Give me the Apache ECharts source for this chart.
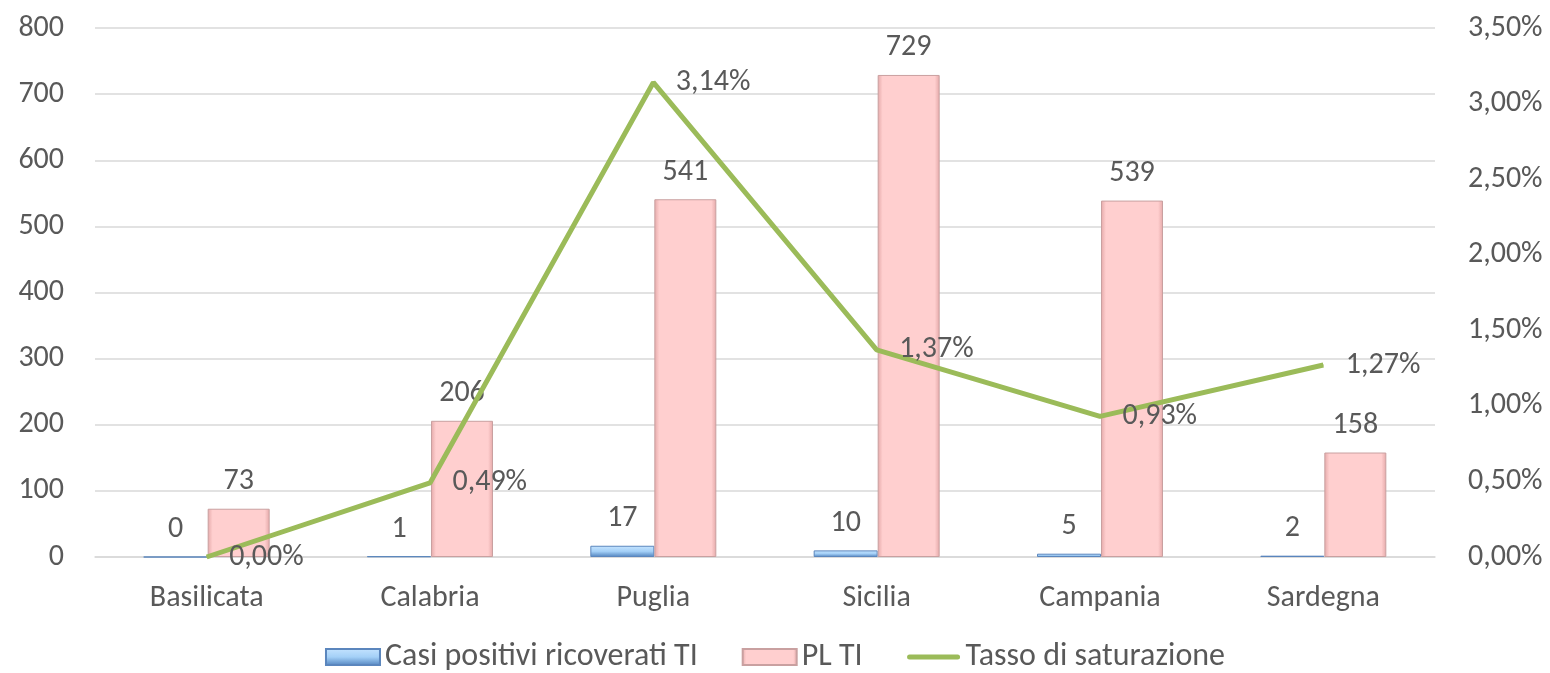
<!DOCTYPE html>
<html><head><meta charset="utf-8">
<script src="https://cdn.jsdelivr.net/npm/echarts@6/dist/echarts.min.js"></script>
<style>html,body{margin:0;padding:0;background:#fff}#c{width:1550px;height:673px}</style>
</head><body><div id="c"></div>
<script>
const categories = ['Basilicata','Calabria','Puglia','Sicilia','Campania','Sardegna'];
const casiPositivi = [0,1,17,10,5,2];
const plTI = [73,206,541,729,539,158];
const tassoSaturazione = [0.00,0.49,3.14,1.37,0.93,1.27];
const FONT = "Carlito, 'Liberation Sans Narrow', 'DejaVu Sans Condensed', 'Noto Sans', sans-serif";
const TXT = '#595959';
const FS = 30;
const chart = echarts.init(document.getElementById('c'));
const fmtPct = v => v.toFixed(2).replace('.', ',') + '%';
const lineIcon = 'path://M0,0 L0.01,0 L0,0.01 Z M3,5.5 L51,5.5 A2.5,2.5 0 0 1 51,10.5 L3,10.5 A2.5,2.5 0 0 1 3,5.5 Z M54,16 L53.99,16 L54,15.99 Z';
chart.setOption({
  animation:false,
  textStyle:{fontFamily:FONT},
  grid:{left:95,right:115,top:28,bottom:116},
  legend:{bottom:-5,left:'center',itemWidth:54,itemHeight:16,itemGap:44,
    textStyle:{fontFamily:FONT,fontSize:32,color:TXT},
    data:[{name:'Casi positivi ricoverati TI',icon:'rect'},{name:'PL TI',icon:'rect'},{name:'Tasso di saturazione',icon:lineIcon,itemStyle:{color:'#9bbb59',borderWidth:0}}]},
  xAxis:{type:'category',data:categories,
    axisLine:{lineStyle:{color:'#d9d9d9',width:1.5}},axisTick:{show:false},
    axisLabel:{fontSize:FS,color:TXT,fontFamily:FONT,margin:26}},
  yAxis:[
    {type:'value',min:0,max:800,interval:100,
     axisLine:{show:false},axisTick:{show:false},
     splitLine:{lineStyle:{color:'#d9d9d9',width:1.5}},
     axisLabel:{fontSize:FS,color:TXT,fontFamily:FONT,margin:31}},
    {type:'value',min:0,max:3.5,interval:0.5,
     axisLine:{show:false},axisTick:{show:false},splitLine:{show:false},
     axisLabel:{fontSize:FS,color:TXT,fontFamily:FONT,margin:33,formatter:fmtPct}}
  ],
  series:[
    {name:'Casi positivi ricoverati TI',type:'bar',data:casiPositivi,barWidth:64,barGap:'0%',
     itemStyle:{color:new echarts.graphic.LinearGradient(0,0,0,1,[{offset:0,color:'#c6e4ff'},{offset:0.5,color:'#a4d0f7'},{offset:1,color:'#4f81bd'}]),borderColor:'#5b86bd',borderWidth:1},
     label:{show:true,position:'top',distance:12,fontSize:FS,color:TXT,fontFamily:FONT}},
    {name:'PL TI',type:'bar',data:plTI,barWidth:62,barGap:'0%',
     itemStyle:{color:new echarts.graphic.LinearGradient(0,0,1,0,[{offset:0,color:'#e4a8a8'},{offset:0.08,color:'#ffcfcf'},{offset:0.92,color:'#ffcfcf'},{offset:1,color:'#e4a8a8'}]),borderColor:'#c9a0a0',borderWidth:1},
     label:{show:true,position:'top',distance:12,fontSize:FS,color:TXT,fontFamily:FONT}},
    {name:'Tasso di saturazione',type:'line',yAxisIndex:1,data:tassoSaturazione,
     symbol:'circle',symbolSize:1,showSymbol:true,lineStyle:{color:'#9bbb59',width:5},itemStyle:{color:'#9bbb59'},
     label:{show:true,position:'right',distance:22,fontSize:FS,color:TXT,fontFamily:FONT,formatter:p=>fmtPct(p.value)}}
  ]
});
</script></body></html>
